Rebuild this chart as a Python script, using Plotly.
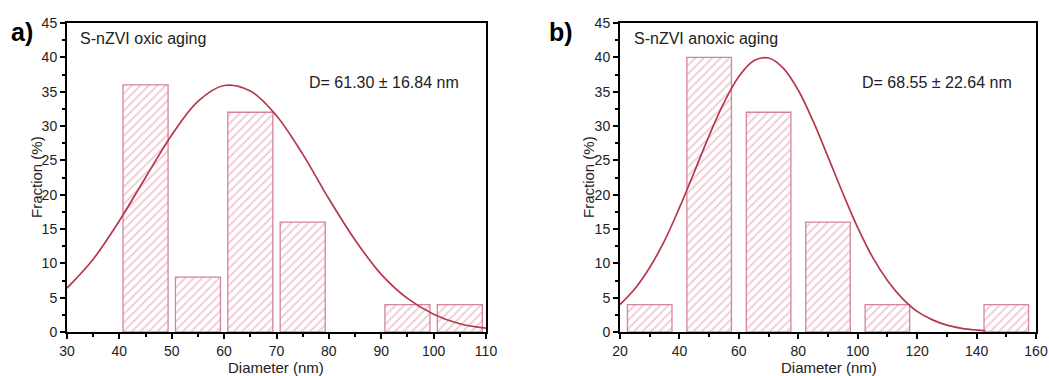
import plotly.graph_objects as go

# ---- data ----
a_centers = [45, 55, 65, 75, 95, 105]
a_values = [36, 8, 32, 16, 4, 4]
b_centers = [30, 50, 70, 90, 110, 150]
b_values = [4, 40, 32, 16, 4, 4]

# fitted distribution curves
a_curve_x = [30, 35, 40, 45, 50, 55, 60, 65, 70, 75, 80, 85, 90, 95, 100, 105, 110]
a_curve_y = [6.4, 10.6, 16.2, 22.5, 28.7, 33.6, 35.9, 35.1, 31.5, 25.9, 19.4, 13.4, 8.4, 4.9, 2.6, 1.2, 0.55]
b_curve_x = [20, 25, 30, 35, 40, 45, 50, 55, 60, 65, 70, 75, 80, 85, 90, 95, 100,
             105, 110, 115, 120, 125, 130, 135, 140, 143]
b_curve_y = [4.0, 6.3, 9.4, 13.3, 18.1, 23.3, 28.6, 33.4, 37.2, 39.5, 39.9, 38.4, 35.2, 30.7,
             25.5, 20.2, 15.2, 10.9, 7.5, 4.9, 3.0, 1.8, 1.0, 0.54, 0.28, 0.18]

a_label = "S-nZVI oxic aging"
b_label = "S-nZVI anoxic aging"
a_stat = "D= 61.30 ± 16.84 nm"
b_stat = "D= 68.55 ± 22.64 nm"

FONT = "Arial, Liberation Sans, sans-serif"
CURVE = "#B5384C"
BAR_LINE = "#D3849A"
HATCH = "#DC8FA5"

W, H = 1049, 376

def px(x):
    return x / W

def py(y):
    return 1 - y / H

fig = go.Figure()

def bar_trace(x, y, width, xa, ya):
    return go.Bar(
        x=x, y=y, width=width, xaxis=xa, yaxis=ya,
        marker=dict(
            color="white",
            line=dict(color=BAR_LINE, width=1.3),
            pattern=dict(shape="/", fgcolor=HATCH, bgcolor="white", size=6, solidity=0.28),
        ),
        showlegend=False, hoverinfo="skip",
    )

fig.add_trace(bar_trace(a_centers, a_values, 8.6, "x", "y"))
fig.add_trace(go.Scatter(x=a_curve_x, y=a_curve_y, mode="lines", line=dict(color=CURVE, width=1.7, shape="spline"),
                         xaxis="x", yaxis="y", showlegend=False))
fig.add_trace(bar_trace(b_centers, b_values, 15, "x2", "y2"))
fig.add_trace(go.Scatter(x=b_curve_x, y=b_curve_y, mode="lines", line=dict(color=CURVE, width=1.7, shape="spline"),
                         xaxis="x2", yaxis="y2", showlegend=False))

ydom = [py(332), py(23)]
tickfont = dict(family=FONT, size=14, color="#222222")

def xaxis(dom, rng, dtick, minor, anchor):
    return dict(domain=dom, range=rng, dtick=dtick, tick0=0, anchor=anchor,
                showline=True, linecolor="black", linewidth=2, mirror=True,
                ticks="outside", ticklen=5, tickwidth=2, tickcolor="black",
                minor=dict(ticks="outside", ticklen=3, tickwidth=1.5, tickcolor="black", dtick=minor),
                showgrid=False, zeroline=False, tickfont=tickfont, automargin=False,
                ticklabeloverflow="allow")

def yaxis(rng, anchor):
    return dict(domain=ydom, range=rng, dtick=5, tick0=0, anchor=anchor,
                showline=True, linecolor="black", linewidth=2, mirror=True,
                ticks="outside", ticklen=5, tickwidth=2, tickcolor="black",
                minor=dict(ticks="outside", ticklen=3, tickwidth=1.5, tickcolor="black", dtick=2.5),
                showgrid=False, zeroline=False, tickfont=tickfont, automargin=False,
                ticklabeloverflow="allow")

fig.update_layout(
    width=W, height=H,
    margin=dict(l=0, r=0, t=0, b=0, pad=0),
    paper_bgcolor="white", plot_bgcolor="white",
    barmode="overlay",
    xaxis=xaxis([px(67), px(486)], [30, 110], 10, 5, "y"),
    yaxis=yaxis([0, 45], "x"),
    xaxis2=xaxis([px(620), px(1036)], [20, 160], 20, 10, "y2"),
    yaxis2=yaxis([0, 45], "x2"),
)

ann = []
def text(x, y, s, size, xanchor="left", bold=False, angle=0):
    ann.append(dict(x=px(x), y=py(y), xref="paper", yref="paper", text=("<b>%s</b>" % s) if bold else s,
                    showarrow=False, xanchor=xanchor, yanchor="middle", textangle=angle,
                    font=dict(family=FONT, size=size, color="black" if bold else "#222222")))

text(9, 32, "a)", 25, bold=True)
text(547, 32, "b)", 25, bold=True)
text(78, 38, a_label, 16)
text(632, 38, b_label, 16)
text(307, 83, a_stat, 16)
text(860, 83, b_stat, 16)
text(276, 367, "Diameter (nm)", 15, xanchor="center")
text(829, 367, "Diameter (nm)", 15, xanchor="center")
text(36, 177, "Fraction (%)", 15, xanchor="center", angle=-90)
text(588, 177, "Fraction (%)", 15, xanchor="center", angle=-90)
fig.update_layout(annotations=ann)

fig.write_html("out.html", config={"displayModeBar": False},
               post_script="document.body.style.margin='0px';document.body.style.overflow='hidden';")
